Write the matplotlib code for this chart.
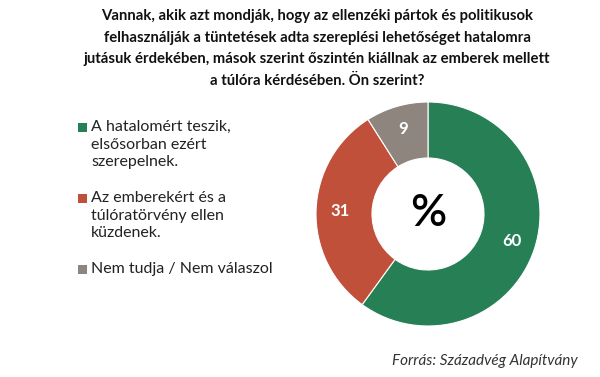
import matplotlib.pyplot as plt
from matplotlib.patches import Rectangle

plt.rcParams['font.family'] = ['Lato', 'DejaVu Sans']

# data
categories = ['A hatalomért teszik,\nelsősorban ezért\nszerepelnek.',
              'Az emberekért és a\ntúlóratörvény ellen\nküzdenek.',
              'Nem tudja / Nem válaszol']
values = [60, 31, 9]
colors = ['#277f55', '#c0503a', '#8e857e']

title = ('Vannak, akik azt mondják, hogy az ellenzéki pártok és politikusok\n'
         'felhasználják a tüntetések adta szereplési lehetőséget hatalomra\n'
         'jutásuk érdekében, mások szerint őszintén kiállnak az emberek mellett\n'
         'a túlóra kérdésében. Ön szerint?')
source = 'Forrás: Századvég Alapítvány'

W, H = 600, 377
fig = plt.figure(figsize=(W / 100, H / 100), dpi=100)

fig.text(317 / W, 1 - 9 / H, title, ha='center', va='top', fontsize=10.7,
         fontweight='bold', linespacing=1.7, color='#111111')

# donut
cx, cy, r = 428, 214, 112
ax = fig.add_axes([(cx - r) / W, (H - cy - r) / H, 2 * r / W, 2 * r / H])
wedges, texts, autotexts = ax.pie(values, colors=colors, startangle=90, counterclock=False,
                                  wedgeprops=dict(width=0.5, edgecolor='white', linewidth=0.8),
                                  autopct=lambda p: f'{p:.0f}', pctdistance=0.79,
                                  textprops=dict(color='white', fontsize=12, fontweight='bold'))
ax.set_xlim(-1, 1)
ax.set_ylim(-1, 1)
ax.set_aspect('equal')
ax.axis('off')
ax.text(0, 0, '%', ha='center', va='center', fontsize=32, fontweight='semibold', color='black')

# legend
ys = [120, 191, 262]
for lab, col, y in zip(categories, colors, ys):
    fig.patches.append(Rectangle((78 / W, 1 - (y + 12) / H), 9 / W, 9 / H,
                                 transform=fig.transFigure, facecolor=col, edgecolor='none'))
    fig.text(91 / W, 1 - y / H, lab, ha='left', va='top', fontsize=11.5,
             linespacing=1.33, color='#222222')

fig.text(578 / W, 1 - 361 / H, source, ha='right', va='center', fontsize=11,
         style='italic', color='#333333')

fig.savefig('out.png', dpi=100)
